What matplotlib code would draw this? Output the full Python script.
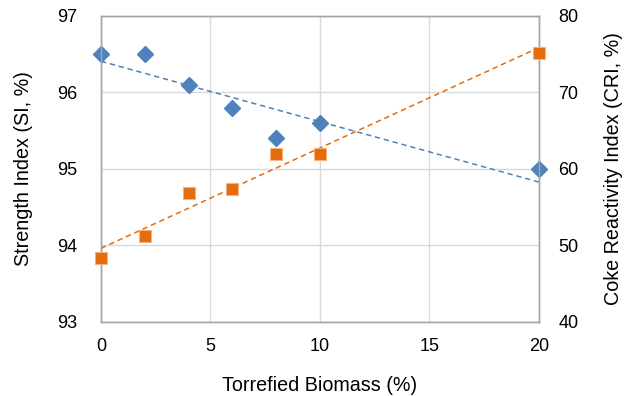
import numpy as np
import matplotlib.pyplot as plt

plt.rcParams['font.family'] = ['Liberation Sans', 'DejaVu Sans']

# Torrefied biomass addition (%)
biomass = [0, 2, 4, 6, 8, 10, 20]
# Strength index SI (%)
si = [96.5, 96.5, 96.1, 95.8, 95.4, 95.6, 95.0]
# Coke reactivity index CRI (%)
cri = [48.3, 51.2, 56.8, 57.4, 62.0, 62.0, 75.2]

x_ticks = [0, 5, 10, 15, 20]
si_ticks = [93, 94, 95, 96, 97]
cri_ticks = [40, 50, 60, 70, 80]

blue = '#4F81BD'
orange = '#E46C0A'
grid_c = '#D9D9D9'
frame_c = '#A6A6A6'

fig = plt.figure(figsize=(6.31, 3.96), dpi=100)
ax = fig.add_axes([0.160, 0.187, 0.694, 0.773])
ax2 = ax.twinx()

# linear trend lines
xs = np.array([0, 20])
p_si = np.polyfit(biomass, si, 1)
p_cri = np.polyfit(biomass, cri, 1)
ax.plot(xs, np.polyval(p_si, xs), ls=(0, (3.5, 2.5)), color=blue, lw=1.1, zorder=3)
ax2.plot(xs, np.polyval(p_cri, xs), ls=(0, (3.5, 2.5)), color=orange, lw=1.1, zorder=3)

ax.plot(biomass, si, 'D', color=blue, ms=7.8, mec=blue, zorder=4, clip_on=False)
ax2.plot(biomass, cri, 's', color=orange, ms=9, mec='#F5B183', mew=0.8, zorder=4, clip_on=False)

ax.set_xlim(0, 20)
ax.set_ylim(93, 97)
ax2.set_ylim(40, 80)
ax.set_xticks(x_ticks)
ax.set_yticks(si_ticks)
ax2.set_yticks(cri_ticks)

ax.grid(True, color=grid_c, lw=1.0)
ax.set_axisbelow(True)

for a in (ax, ax2):
    for s in a.spines.values():
        s.set_color(frame_c)
        s.set_linewidth(1.0)
    a.tick_params(length=0, labelsize=13, colors='black')
ax.tick_params(axis='y', pad=17)
ax.tick_params(axis='x', pad=11.5)
ax2.tick_params(axis='y', pad=14)

ax.set_xlabel('Torrefied Biomass (%)', fontsize=14.2, labelpad=15)
ax.set_ylabel('Strength Index (SI, %)', fontsize=14.2, labelpad=17)
ax2.set_ylabel('Coke Reactivity Index (CRI, %)', fontsize=14.2, labelpad=18)

fig.savefig('out.png', dpi=100)
